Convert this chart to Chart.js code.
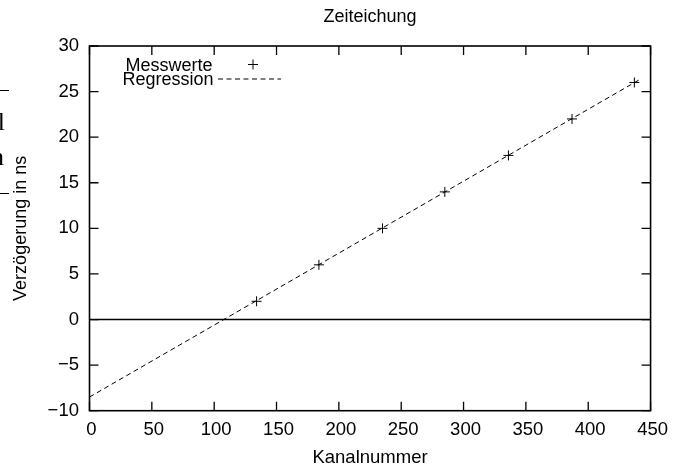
<!DOCTYPE html>
<html><head><meta charset="utf-8">
<script src="https://cdn.jsdelivr.net/npm/chart.js@4"></script>
<style>html,body{margin:0;padding:0;background:#fff}#wrap{width:674px;height:465px;position:relative}</style>
</head><body><div id="wrap"><canvas id="c" width="674" height="465"></canvas></div>
<script>
const chartTitle = 'Zeiteichung';
const xAxisTitle = 'Kanalnummer';
const yAxisTitle = 'Verzögerung in ns';
const seriesNames = ['Messwerte', 'Regression'];
const kanal = [134, 184, 235, 285, 336, 387, 437];
const verzoegerung = [2, 6, 10, 14, 18, 22, 26];
const regressionX = [0, 441];
const regressionY = [-8.5, 26.3];
const xTickValues = [0, 50, 100, 150, 200, 250, 300, 350, 400, 450];
const yTickValues = [-10, -5, 0, 5, 10, 15, 20, 25, 30];

const FONT = '"Liberation Sans", Arial, Helvetica, sans-serif';
Chart.defaults.font.family = FONT;
Chart.defaults.font.size = 18;
Chart.defaults.color = '#000';

const gnuplotFrame = {
  id: 'gnuplotFrame',
  beforeDraw(chart) {
    const ctx = chart.ctx;
    const a = chart.chartArea;
    ctx.save();
    // fragments of neighbouring page content at the left edge
    ctx.strokeStyle = '#000'; ctx.lineWidth = 1;
    ctx.beginPath(); ctx.moveTo(0, 90.5); ctx.lineTo(9, 90.5); ctx.moveTo(0, 193.5); ctx.lineTo(9, 193.5); ctx.stroke();
    ctx.fillStyle = '#000';
    ctx.font = '26px "Liberation Serif", serif';
    ctx.textAlign = 'right'; ctx.textBaseline = 'alphabetic';
    ctx.fillText('l', 5, 130);
    ctx.fillText('n', 4, 165);
    // chart title centred over the plot area
    ctx.font = '18px ' + FONT;
    ctx.textAlign = 'center'; ctx.textBaseline = 'middle';
    ctx.fillText(chart.options.plugins.title.text, (a.left + a.right) / 2, 17.5);
    ctx.restore();
  },
  beforeDatasetsDraw(chart) {
    const {ctx, chartArea: a, scales: {y}} = chart;
    const y0 = y.getPixelForValue(0);
    ctx.save();
    ctx.strokeStyle = '#000'; ctx.lineWidth = 1.5;
    ctx.beginPath(); ctx.moveTo(a.left, y0); ctx.lineTo(a.right, y0); ctx.stroke();
    ctx.restore();
  },
  afterDatasetsDraw(chart) {
    const {ctx, chartArea: a, scales: {x, y}} = chart;
    const tl = 9;
    ctx.save();
    ctx.strokeStyle = '#000';
    ctx.lineWidth = 1.3;
    ctx.beginPath();
    x.ticks.forEach(t => {
      const px = x.getPixelForValue(t.value);
      ctx.moveTo(px, a.bottom); ctx.lineTo(px, a.bottom - tl);
      ctx.moveTo(px, a.top); ctx.lineTo(px, a.top + tl);
    });
    y.ticks.forEach(t => {
      const py = y.getPixelForValue(t.value);
      ctx.moveTo(a.left, py); ctx.lineTo(a.left + tl, py);
      ctx.moveTo(a.right, py); ctx.lineTo(a.right - tl, py);
    });
    ctx.stroke();
    ctx.lineWidth = 1.6;
    ctx.strokeRect(a.left, a.top, a.right - a.left, a.bottom - a.top);

    // gnuplot-style key
    const ds = chart.data.datasets;
    ctx.font = '18px ' + FONT;
    ctx.fillStyle = '#000';
    ctx.textAlign = 'right';
    ctx.textBaseline = 'alphabetic';
    ctx.fillText(ds[0].label, 212.5, 71);
    ctx.fillText(ds[1].label, 213.5, 85.3);
    ctx.lineWidth = 1;
    ctx.beginPath();
    ctx.moveTo(248, 64.5); ctx.lineTo(258, 64.5);
    ctx.moveTo(253, 59.5); ctx.lineTo(253, 69.5);
    ctx.stroke();
    ctx.setLineDash(ds[1].borderDash);
    ctx.beginPath(); ctx.moveTo(218, 79); ctx.lineTo(281, 79); ctx.stroke();
    ctx.restore();
  }
};

new Chart(document.getElementById('c'), {
  type: 'scatter',
  data: {
    datasets: [
      {
        label: seriesNames[0],
        data: kanal.map((k, i) => ({x: k, y: verzoegerung[i]})),
        pointStyle: 'cross', pointRadius: 5, pointBorderWidth: 1,
        borderColor: '#000', backgroundColor: '#000', showLine: false
      },
      {
        label: seriesNames[1],
        data: regressionX.map((k, i) => ({x: k, y: regressionY[i]})),
        showLine: true, pointRadius: 0, borderWidth: 1, borderDash: [5, 3.5],
        borderColor: '#000', fill: false
      }
    ]
  },
  options: {
    responsive: false,
    animation: false,
    events: [],
    layout: {padding: {left: 0, right: 20.7, top: 46, bottom: 0}},
    plugins: {
      legend: {display: false},
      tooltip: {enabled: false},
      title: {display: false, text: chartTitle}
    },
    scales: {
      x: {
        type: 'linear', min: 0, max: 450,
        afterBuildTicks: s => { s.ticks = xTickValues.map(v => ({value: v})); },
        afterFit: s => { s.height = 54.3; },
        grid: {display: false, drawTicks: false},
        border: {display: false},
        ticks: {padding: 8, labelOffset: 2, maxRotation: 0, autoSkip: false, font: {size: 18.5}},
        title: {display: true, text: xAxisTitle, font: {size: 18.5}, padding: {top: 0, bottom: -3.6}}
      },
      y: {
        type: 'linear', min: -10, max: 30,
        afterBuildTicks: s => { s.ticks = yTickValues.map(v => ({value: v})); },
        afterFit: s => { s.width = 89.5; },
        grid: {display: false, drawTicks: false},
        border: {display: false},
        ticks: {padding: 10.5, autoSkip: false, font: {size: 18.5}, callback: v => v < 0 ? '\u2212' + Math.abs(v) : String(v)},
        title: {display: true, text: yAxisTitle, font: {size: 18}, padding: {top: 10.7, bottom: 0}}
      }
    }
  },
  plugins: [gnuplotFrame]
});
</script></body></html>
